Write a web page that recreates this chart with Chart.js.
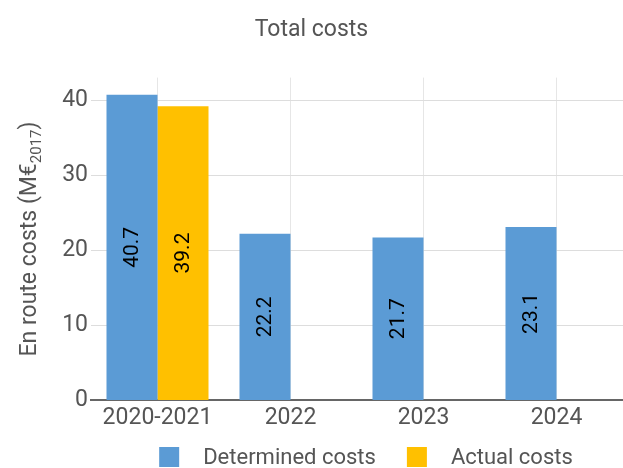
<!DOCTYPE html>
<html>
<head>
<meta charset="utf-8">
<title>Total costs</title>
<script src="https://cdn.jsdelivr.net/npm/chart.js@4.4.1/dist/chart.umd.min.js"></script>
<style>
  html, body { margin: 0; padding: 0; background: #fff; }
  canvas { display: block; }
</style>
</head>
<body>
<canvas id="costChart" width="623" height="468"></canvas>
<script>
// En route costs per period (M€ 2017)
const periods = ['2020-2021', '2022', '2023', '2024'];
const determinedCosts = [40.7, 22.2, 21.7, 23.1];
const actualCosts = [39.2, null, null, null];
const yTickValues = [0, 10, 20, 30, 40];
const seriesNames = ['Determined costs', 'Actual costs'];
const seriesColors = ['#5B9BD5', '#FFC000'];

const FONT = 'Roboto, "Noto Sans", sans-serif';
const TEXT_GREY = '#555555';

// value printed sideways in the middle of each bar
const barValues = {
    id: 'barValues',
    afterDatasetsDraw(chart) {
        const ctx = chart.ctx;
        ctx.save();
        ctx.font = '21px ' + FONT;
        ctx.fillStyle = '#000';
        ctx.textAlign = 'center';
        ctx.textBaseline = 'middle';
        chart.data.datasets.forEach((ds, i) => {
            const meta = chart.getDatasetMeta(i);
            meta.data.forEach((bar, j) => {
                const v = ds.data[j];
                if (v === null || v === undefined) return;
                ctx.save();
                ctx.translate(bar.x, (bar.y + bar.base) / 2);
                ctx.rotate(-Math.PI / 2);
                ctx.fillText(v.toFixed(1), 0, 1);
                ctx.restore();
            });
        });
        ctx.restore();
    }
};

// y axis title with the 2017 subscript
const yAxisTitle = {
    id: 'yAxisTitle',
    afterDraw(chart) {
        const {ctx, chartArea} = chart;
        const main = 'En route costs (M€';
        const sub = '2017';
        const tail = ')';
        ctx.save();
        ctx.fillStyle = TEXT_GREY;
        ctx.textBaseline = 'alphabetic';
        ctx.font = '23px ' + FONT;
        const wMain = ctx.measureText(main).width;
        const wTail = ctx.measureText(tail).width;
        ctx.font = '15px ' + FONT;
        const wSub = ctx.measureText(sub).width;
        const total = wMain + wSub + wTail;
        ctx.translate(36, (chartArea.top + chartArea.bottom) / 2);
        ctx.rotate(-Math.PI / 2);
        let x = -total / 2;
        ctx.font = '23px ' + FONT;
        ctx.fillText(main, x, 0);
        x += wMain;
        ctx.font = '15px ' + FONT;
        ctx.fillText(sub, x, 5);
        x += wSub;
        ctx.font = '23px ' + FONT;
        ctx.fillText(tail, x, 0);
        ctx.restore();
    }
};

// legend row under the axis
const legendRow = {
    id: 'legendRow',
    afterDraw(chart) {
        const ctx = chart.ctx;
        const box = 20, gap = 24, spacing = 31;
        const cy = 457;
        ctx.save();
        ctx.font = '22px ' + FONT;
        ctx.textBaseline = 'middle';
        const items = chart.data.datasets.map(ds => ({
            text: ds.label,
            color: ds.backgroundColor,
            w: ctx.measureText(ds.label).width
        }));
        const total = items.reduce((s, it) => s + box + gap + it.w, 0) + spacing * (items.length - 1);
        let x = 366 - total / 2;
        items.forEach(it => {
            ctx.fillStyle = it.color;
            ctx.fillRect(x, cy - box / 2, box, box);
            x += box + gap;
            ctx.fillStyle = TEXT_GREY;
            ctx.fillText(it.text, x, cy + 1);
            x += it.w + spacing;
        });
        ctx.restore();
    }
};

new Chart(document.getElementById('costChart'), {
    type: 'bar',
    data: {
        labels: periods,
        datasets: [
            {
                label: seriesNames[0],
                data: determinedCosts,
                backgroundColor: seriesColors[0],
                borderWidth: 0
            },
            {
                label: seriesNames[1],
                data: actualCosts,
                backgroundColor: seriesColors[1],
                borderWidth: 0
            }
        ]
    },
    options: {
        responsive: false,
        devicePixelRatio: 1,
        animation: false,
        categoryPercentage: 0.767,
        barPercentage: 1.0,
        layout: { padding: { left: 0, right: 0, top: 0, bottom: 32 } },
        plugins: {
            legend: { display: false },
            tooltip: { enabled: false },
            title: {
                display: true,
                text: 'Total costs',
                color: TEXT_GREY,
                font: { family: FONT, size: 23, weight: 'normal' },
                padding: { top: 16, bottom: 34 }
            }
        },
        scales: {
            x: {
                grid: { color: '#e6e6e6', offset: false, drawTicks: false },
                border: { color: '#666666', width: 2 },
                ticks: {
                    color: TEXT_GREY,
                    font: { family: FONT, size: 23 },
                    padding: 4
                }
            },
            y: {
                min: 0,
                max: 43,
                afterBuildTicks(scale) {
                    scale.ticks = yTickValues.map(v => ({ value: v }));
                },
                afterFit(scale) {
                    scale.width = 91;
                },
                grid: {
                    color: ctx => ctx.tick && ctx.tick.value === 0 ? '#666666' : '#dddddd',
                    drawTicks: false
                },
                border: { display: false },
                ticks: {
                    color: TEXT_GREY,
                    font: { family: FONT, size: 23 },
                    padding: 3
                }
            }
        }
    },
    plugins: [barValues, yAxisTitle, legendRow]
});
</script>
</body>
</html>
